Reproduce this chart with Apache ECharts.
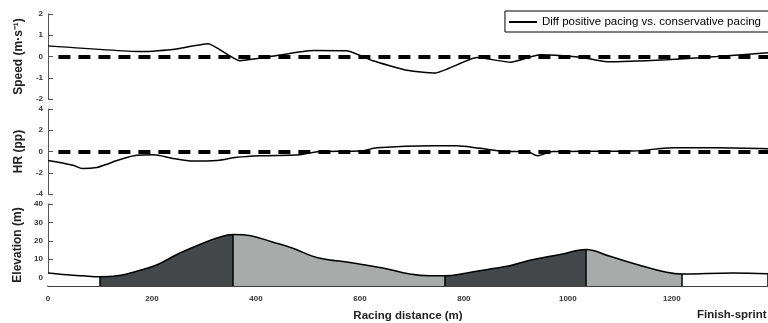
<!DOCTYPE html>
<html>
<head>
<meta charset="utf-8">
<script src="https://cdn.jsdelivr.net/npm/echarts@6/dist/echarts.min.js"></script>
<style>
html, body { margin: 0; padding: 0; background: #fff; }
#chart { width: 768px; height: 323px; }
</style>
</head>
<body>
<div id="chart"></div>
<script>
// speed difference (m/s) vs racing distance (m)
var distSpeed = [0, 183, 240, 308, 369, 408, 440, 510, 575, 625, 690, 744, 825, 890, 946, 985, 1029, 1075, 1190, 1287, 1385];
var speedDiff = [0.5, 0.23, 0.33, 0.6, -0.2, -0.08, 0.05, 0.28, 0.27, -0.2, -0.65, -0.78, -0.05, -0.27, 0.08, 0.05, -0.05, -0.25, -0.15, 0, 0.18];

// heart rate difference (pp)
var distHr = [0, 48, 67, 94, 113, 133, 171, 202, 240, 279, 325, 363, 408, 485, 523, 600, 633, 740, 786, 831, 888, 921, 942, 971, 1125, 1202, 1287, 1385];
var hrDiff = [-0.85, -1.3, -1.6, -1.5, -1.2, -0.85, -0.35, -0.3, -0.65, -0.9, -0.85, -0.55, -0.4, -0.3, 0, 0.05, 0.35, 0.55, 0.55, 0.3, 0, 0, -0.4, 0, 0.05, 0.35, 0.35, 0.25];

// course elevation (m)
var distElev = [0, 36, 67, 100, 133, 177, 210, 248, 292, 325, 356, 390, 430, 471, 517, 587, 644, 696, 735, 763, 806, 850, 888, 927, 985, 1035, 1081, 1138, 1190, 1219, 1317, 1385];
var elevation = [2.6, 1.6, 1.0, 0.5, 1.0, 4, 7, 12.6, 18, 21.5, 23.5, 22.8, 19.5, 16, 11, 8, 5.3, 2, 1, 1, 2.6, 4.7, 6.5, 9.5, 12.6, 15.3, 11.6, 6.8, 3, 2, 2.6, 2.2];

// course sections: flat, uphill, downhill, uphill, downhill, finish-sprint
var sectionBounds = [100, 356, 763, 1035, 1219];
var sectionColors = ['#ffffff', '#45484a', '#a9aaaa', '#45484a', '#a9aaaa', '#ffffff'];

// tick labels
var xTicks = [0, 200, 400, 600, 800, 1000, 1200];
var speedTicks = [-2, -1, 0, 1, 2];
var hrTicks = [-4, -2, 0, 2, 4];
var elevTicks = [0, 10, 20, 30, 40];

var xMax = 1385;
var elevMin = -4.5;
var refStart = 20;
var seriesName = 'Diff positive pacing vs. conservative pacing';
var font = 'Liberation Sans, Arial, Helvetica, sans-serif';

function pairs(xs, ys) {
	return xs.map(function(x, i) { return [x, ys[i]]; });
}

function elevAt(d) {
	return elevation[distElev.indexOf(d)];
}

var pieces = [];
for (var i = 0; i < sectionColors.length; i++) {
	var p = { color: sectionColors[i] };
	if (i > 0) p.gte = sectionBounds[i - 1];
	if (i < sectionBounds.length) p.lt = sectionBounds[i];
	pieces.push(p);
}

var edgeLines = sectionBounds.concat([xMax]).map(function(b) {
	return [{ coord: [b, elevMin] }, { coord: [b, elevAt(b)] }];
});

var axisCol = '#555';
var tickLabel = { fontSize: 8, fontWeight: 'bold', color: '#333', fontFamily: font, margin: 5 };
var nameStyle = { fontSize: 12, fontWeight: 'bold', color: '#222', fontFamily: font };

function yAx(idx, min, max, ticks, name) {
	return {
		type: 'value', gridIndex: idx, min: min, max: max,
		name: name, nameLocation: 'middle', nameGap: 22, nameTextStyle: nameStyle,
		axisLine: { show: true, lineStyle: { color: axisCol, width: 1 } },
		axisTick: { show: true, inside: true, length: 5, customValues: ticks, lineStyle: { color: axisCol } },
		axisLabel: Object.assign({ customValues: ticks }, tickLabel),
		splitLine: { show: false }
	};
}

function xAx(idx, shown) {
	return {
		type: 'value', gridIndex: idx, min: 0, max: xMax,
		show: shown,
		name: shown ? 'Racing distance (m)' : '',
		nameLocation: 'middle', nameGap: 24,
		nameTextStyle: { fontSize: 11.5, fontWeight: 'bold', color: '#222', fontFamily: font },
		axisLine: { show: shown, onZero: false, lineStyle: { color: '#000', width: 1.5 } },
		axisTick: { show: false },
		axisLabel: Object.assign({ customValues: xTicks, formatter: function(v) { return String(v); } }, tickLabel, { margin: 9 }),
		splitLine: { show: false }
	};
}

var zeroRef = {
	silent: true,
	symbol: 'none',
	label: { show: false },
	lineStyle: { color: '#000', width: 4, type: [12, 8] },
	data: [[{ coord: [refStart, 0] }, { coord: [xMax, 0] }]]
};

var chart = echarts.init(document.getElementById('chart'));
chart.setOption({
	animation: false,
	textStyle: { fontFamily: font },
	grid: [
		{ left: 48, right: 0, top: 14, height: 85 },
		{ left: 48, right: 0, top: 109, height: 85 },
		{ left: 48, right: 0, top: 204, height: 86 }
	],
	legend: {
		data: [{ name: seriesName, icon: 'rect' }],
		right: -1, top: 11,
		borderColor: '#000', borderWidth: 1,
		padding: [5, 8, 4, 4],
		itemWidth: 28, itemHeight: 2, itemGap: 8,
		textStyle: { fontSize: 11.5, color: '#000', fontFamily: font }
	},
	visualMap: {
		show: false,
		type: 'piecewise',
		seriesIndex: 2,
		dimension: 0,
		pieces: pieces
	},
	xAxis: [xAx(0, false), xAx(1, false), xAx(2, true)],
	yAxis: [
		yAx(0, -2, 2, speedTicks, 'Speed (m·s⁻¹)'),
		yAx(1, -4, 4, hrTicks, 'HR (pp)'),
		yAx(2, elevMin, 40, elevTicks, 'Elevation (m)')
	],
	graphic: [{
		type: 'text', left: 697, top: 309,
		style: { text: 'Finish-sprint', fontSize: 11.5, fontWeight: 'bold', fill: '#222', fontFamily: font }
	}],
	series: [
		{
			name: seriesName, type: 'line', xAxisIndex: 0, yAxisIndex: 0,
			data: pairs(distSpeed, speedDiff), symbol: 'none', smooth: 0.15,
			lineStyle: { color: '#000', width: 1.5 }, itemStyle: { color: '#000' },
			markLine: zeroRef, z: 3
		},
		{
			name: seriesName, type: 'line', xAxisIndex: 1, yAxisIndex: 1,
			data: pairs(distHr, hrDiff), symbol: 'none', smooth: 0.35,
			lineStyle: { color: '#000', width: 1.5 }, itemStyle: { color: '#000' },
			markLine: zeroRef, z: 3
		},
		{
			name: 'Elevation', type: 'line', xAxisIndex: 2, yAxisIndex: 2,
			data: pairs(distElev, elevation), symbol: 'none', smooth: 0.4,
			lineStyle: { color: '#000', width: 1.5 },
			areaStyle: { opacity: 1, origin: 'start' },
			markLine: {
				silent: true, symbol: 'none', label: { show: false },
				lineStyle: { color: '#000', width: 1.5, type: 'solid' },
				data: edgeLines
			}
		}
	]
});
</script>
</body>
</html>
